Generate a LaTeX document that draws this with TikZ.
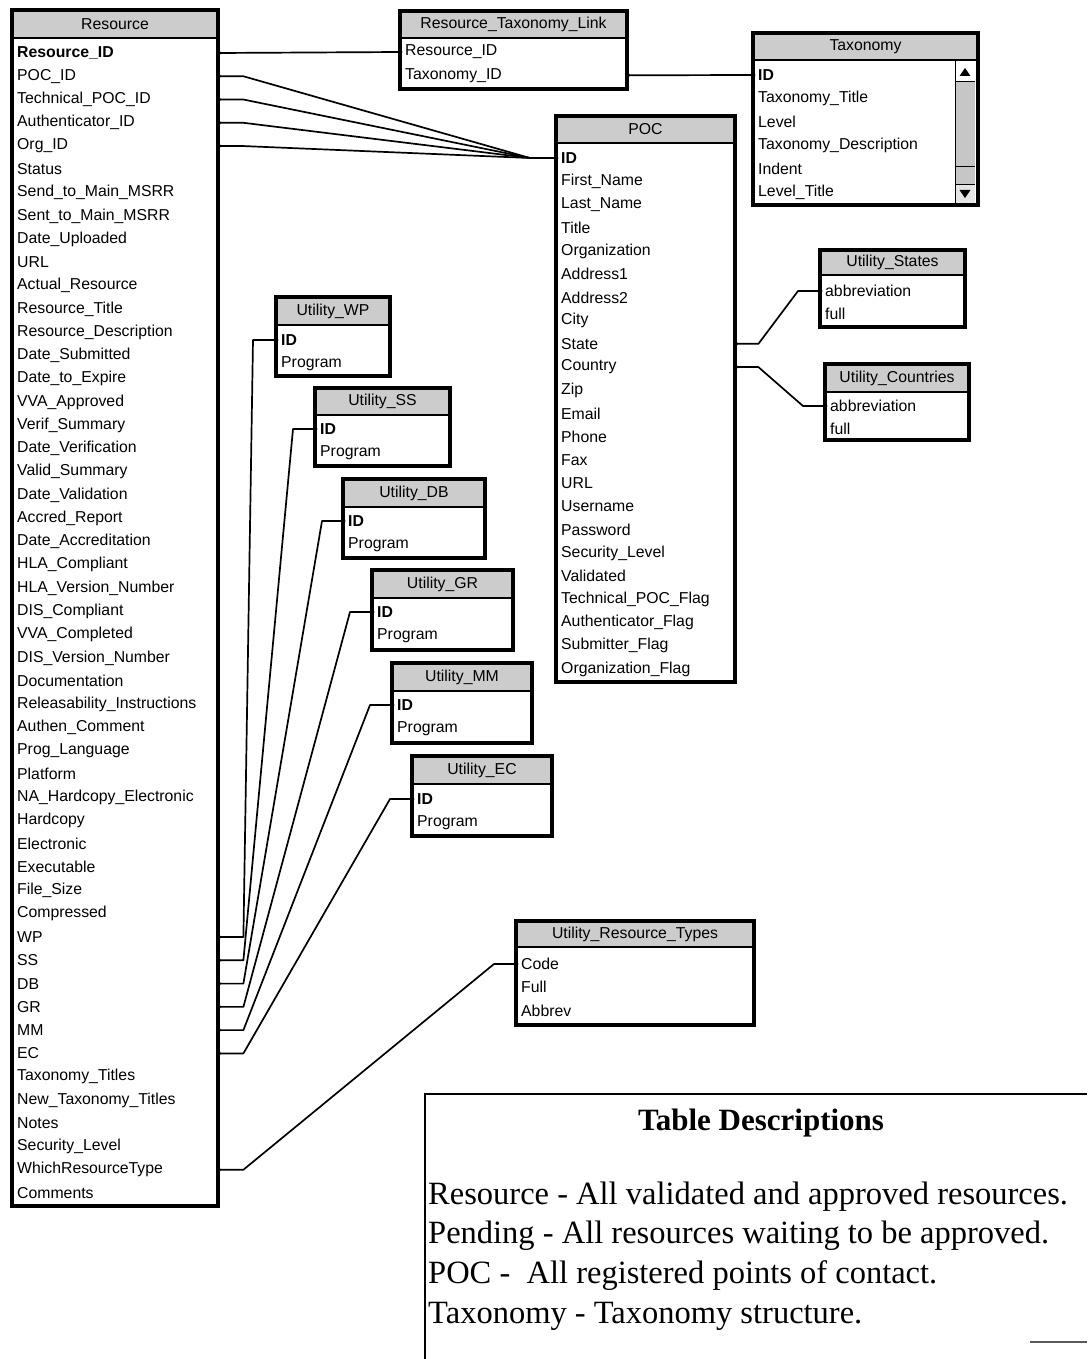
\documentclass[tikz,border=0pt]{standalone}
\usepackage{fontspec}
\setmainfont{Liberation Serif}
\newfontfamily\dbfont{Liberation Sans}
\usetikzlibrary{calc}
\tikzset{
  tblborder/.style={draw=black, line width=3.3pt},
  hdr/.style={fill=gray!40},
  fld/.style={anchor=west, inner xsep=5pt, inner ysep=1pt, font=\dbfont\fontsize{15.8}{17}\selectfont, align=left},
  ttl/.style={font=\dbfont\fontsize{15.8}{17}\selectfont, inner sep=0pt},
  link/.style={line width=1.7pt, line join=round},
  descline/.style={anchor=base west, inner sep=0pt, font=\fontsize{32.5}{38}\selectfont},
}
% #1 name, #2 x1, #3 y1, #4 x2, #5 y2, #6 header bottom y, #7 title
\newcommand{\ertable}[7]{%
  \fill[white] (#2,#3) rectangle (#4,#5);
  \fill[hdr] (#2,#3) rectangle (#4,#6);
  \draw[line width=1.6pt] (#2,#6) -- (#4,#6);
  \draw[tblborder] (#2,#3) rectangle (#4,#5);
  \node[ttl] (#1) at ({(#2+#4)/2},{(#3+#6)/2}) {#7};
}
\newcommand{\linkdots}[2]{\fill (#1) circle (2.4pt); \fill (#2) circle (2.4pt);}
\begin{document}
\begin{tikzpicture}[x=1pt,y=-1pt]
\fill[white] (0,0) rectangle (1087,1359);
\useasboundingbox (0,0) rectangle (1087,1359);

% ---------- Resource ----------
\ertable{resource}{12}{10}{218}{1206}{38}{Resource}
\foreach \t [count=\i] in {{\textbf{Resource\_ID}}, POC\_ID, Technical\_POC\_ID, Authenticator\_ID, Org\_ID, Status, Send\_to\_Main\_MSRR, Sent\_to\_Main\_MSRR, Date\_Uploaded, URL, Actual\_Resource, Resource\_Title, Resource\_Description, Date\_Submitted, Date\_to\_Expire, VVA\_Approved, Verif\_Summary, Date\_Verification, Valid\_Summary, Date\_Validation, Accred\_Report, Date\_Accreditation, HLA\_Compliant, HLA\_Version\_Number, DIS\_Compliant, VVA\_Completed, DIS\_Version\_Number, Documentation, Releasability\_Instructions, Authen\_Comment, Prog\_Language, Platform, NA\_Hardcopy\_Electronic, Hardcopy, Electronic, Executable, File\_Size, Compressed, WP, SS, DB, GR, MM, EC, Taxonomy\_Titles, New\_Taxonomy\_Titles, Notes, Security\_Level, WhichResourceType, Comments}
  \node[fld, text width=196pt] (res\i) at (12,{53+(\i-1)*23.265}) {\t};

% ---------- Resource_Taxonomy_Link ----------
\ertable{rtlink}{400}{11}{627}{89}{38}{Resource\_Taxonomy\_Link}
\foreach \t [count=\i] in {Resource\_ID, Taxonomy\_ID}
  \node[fld, text width=217pt] (rtl\i) at (400,{52+(\i-1)*23.3}) {\t};

% ---------- Taxonomy ----------
\ertable{taxonomy}{753}{33}{978}{205}{60}{Taxonomy}
\foreach \t [count=\i] in {{\textbf{ID}}, Taxonomy\_Title, Level, Taxonomy\_Description, Indent, Level\_Title}
  \node[fld, text width=215pt] (tax\i) at (753,{75+(\i-1)*23.4}) {\t};
% scrollbar
\fill[gray!45] (955,82) rectangle (975,185);
\fill[white] (955,62) rectangle (975,82);
\fill[gray!20] (955,185) rectangle (975,203);
\draw[line width=1pt] (955,61) -- (955,204);
\draw[line width=1pt] (955,82) -- (975,82);
\draw[line width=1pt] (955,167) -- (975,167);
\draw[line width=1pt] (955,185) -- (975,185);
\fill (965,68) -- (959.5,76) -- (970.5,76) -- cycle;
\fill (959.5,190) -- (970.5,190) -- (965,198) -- cycle;
\draw[tblborder] (753,33) rectangle (978,205);

% ---------- POC ----------
\ertable{poc}{556}{116}{735}{682}{143}{POC}
\foreach \t [count=\i] in {{\textbf{ID}}, First\_Name, Last\_Name, Title, Organization, Address1, Address2, City, State, Country, Zip, Email, Phone, Fax, URL, Username, Password, Security\_Level, Validated, Technical\_POC\_Flag, Authenticator\_Flag, Submitter\_Flag, Organization\_Flag}
  \node[fld, text width=169pt] (poc\i) at (556,{158+(\i-1)*23.23}) {\t};

% ---------- Utility_States ----------
\ertable{ustates}{820}{250}{965}{327}{275}{Utility\_States}
\foreach \t [count=\i] in {abbreviation, full}
  \node[fld, text width=135pt] (st\i) at (820,{291+(\i-1)*23.3}) {\t};

% ---------- Utility_Countries ----------
\ertable{ucountries}{825}{364}{969}{440}{392}{Utility\_Countries}
\foreach \t [count=\i] in {abbreviation, full}
  \node[fld, text width=134pt] (co\i) at (825,{406+(\i-1)*23.3}) {\t};

% ---------- Utility program tables ----------
\ertable{uwp}{276}{297}{390}{376}{325}{Utility\_WP}
\foreach \t [count=\i] in {{\textbf{ID}}, Program}
  \node[fld, text width=104pt] (wp\i) at (276,{340+(\i-1)*23.5}) {\t};
\ertable{uss}{315}{388}{450}{466}{415}{Utility\_SS}
\foreach \t [count=\i] in {{\textbf{ID}}, Program}
  \node[fld, text width=125pt] (ss\i) at (315,{429+(\i-1)*23.5}) {\t};
\ertable{udb}{343}{479}{485}{558}{507}{Utility\_DB}
\foreach \t [count=\i] in {{\textbf{ID}}, Program}
  \node[fld, text width=132pt] (db\i) at (343,{521+(\i-1)*23.5}) {\t};
\ertable{ugr}{372}{570}{513}{650}{598}{Utility\_GR}
\foreach \t [count=\i] in {{\textbf{ID}}, Program}
  \node[fld, text width=131pt] (gr\i) at (372,{612+(\i-1)*23.5}) {\t};
\ertable{umm}{392}{663}{532}{743}{691}{Utility\_MM}
\foreach \t [count=\i] in {{\textbf{ID}}, Program}
  \node[fld, text width=130pt] (mm\i) at (392,{705+(\i-1)*23.5}) {\t};
\ertable{uec}{412}{756}{552}{836}{784}{Utility\_EC}
\foreach \t [count=\i] in {{\textbf{ID}}, Program}
  \node[fld, text width=130pt] (ec\i) at (412,{799+(\i-1)*23.5}) {\t};

% ---------- Utility_Resource_Types ----------
\ertable{urtypes}{516}{921}{754}{1025}{947}{Utility\_Resource\_Types}
\foreach \t [count=\i] in {Code, Full, Abbrev}
  \node[fld, text width=228pt] (rt\i) at (516,{964+(\i-1)*23.2}) {\t};

% ---------- connectors ----------
\draw[link] (res1.east) -- (rtl1.west); \linkdots{res1.east}{rtl1.west}
\draw[link] (rtl2.east) -- (tax1.west); \linkdots{rtl2.east}{tax1.west}

\draw[link] (res2.east) -- ++(25,0) -- ([xshift=-26pt]poc1.west) -- (poc1.west);
\draw[link] (res3.east) -- ++(25,0) -- ([xshift=-26pt]poc1.west);
\draw[link] (res4.east) -- ++(25,0) -- ([xshift=-26pt]poc1.west);
\draw[link] (res5.east) -- ++(25,0) -- ([xshift=-26pt]poc1.west);
\fill (res2.east) circle (2.4pt); \fill (res3.east) circle (2.4pt);
\fill (res4.east) circle (2.4pt); \fill (res5.east) circle (2.4pt);
\fill (poc1.west) circle (2.4pt);

\draw[link] (poc9.east) -- ++(23,0) -- ([xshift=-22pt]st1.west) -- (st1.west); \linkdots{poc9.east}{st1.west}
\draw[link] (poc10.east) -- ++(23,0) -- ([xshift=-22pt]co1.west) -- (co1.west); \linkdots{poc10.east}{co1.west}

\draw[link] (res39.east) -- ++(25,0) -- ([xshift=-23pt]wp1.west) -- (wp1.west); \linkdots{res39.east}{wp1.west}
\draw[link] (res40.east) -- ++(25,0) -- ([xshift=-22pt]ss1.west) -- (ss1.west); \linkdots{res40.east}{ss1.west}
\draw[link] (res41.east) -- ++(25,0) -- ([xshift=-21pt]db1.west) -- (db1.west); \linkdots{res41.east}{db1.west}
\draw[link] (res42.east) -- ++(25,0) -- ([xshift=-22pt]gr1.west) -- (gr1.west); \linkdots{res42.east}{gr1.west}
\draw[link] (res43.east) -- ++(25,0) -- ([xshift=-22pt]mm1.west) -- (mm1.west); \linkdots{res43.east}{mm1.west}
\draw[link] (res44.east) -- ++(25,0) -- ([xshift=-22pt]ec1.west) -- (ec1.west); \linkdots{res44.east}{ec1.west}
\draw[link] (res49.east) -- ++(25,0) -- ([xshift=-22pt]rt1.west) -- (rt1.west); \linkdots{res49.east}{rt1.west}

% ---------- Table Descriptions ----------
\draw[line width=1.3pt] (1087,1094) -- (425,1094) -- (425,1359);
\draw[line width=2pt, gray!70!black] (1030,1342) -- (1087,1342);
\node[anchor=base, inner sep=0pt, font=\bfseries\fontsize{31}{36}\selectfont] (desctitle) at (761,1130) {Table Descriptions};
\node[descline] (desc1) at (428,1204) {Resource - All validated and approved resources.};
\node[descline] (desc2) at (428,1243) {Pending - All resources waiting to be approved.};
\node[descline] (desc3) at (428,1283) {POC -\ \ All registered points of contact.};
\node[descline] (desc4) at (428,1323) {Taxonomy - Taxonomy structure.};
\end{tikzpicture}
\end{document}
